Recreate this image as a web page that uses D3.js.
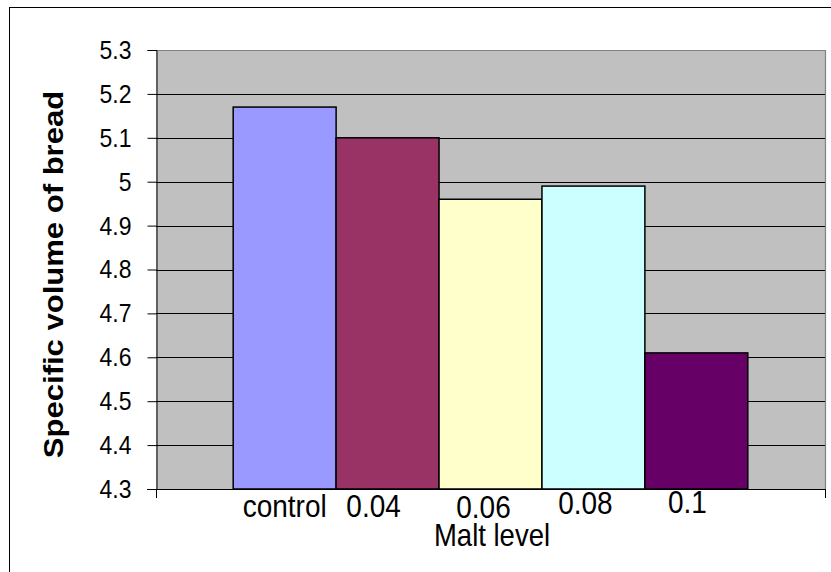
<!DOCTYPE html>
<html>
<head>
<meta charset="utf-8">
<script src="https://cdn.jsdelivr.net/npm/d3@7"></script>
<style>
  html, body { margin: 0; padding: 0; background: #fff; }
  svg { display: block; font-family: "Liberation Sans", Arial, sans-serif; }
</style>
</head>
<body>
<svg id="chart" width="831" height="572"></svg>
<script>
// ---- data ----
const categories = ["control", "0.04", "0.06", "0.08", "0.1"];
const values = [5.17, 5.10, 4.96, 4.99, 4.61];
const barColors = ["#9999FF", "#993366", "#FFFFCC", "#CCFFFF", "#660066"];
const yTicks = [4.3, 4.4, 4.5, 4.6, 4.7, 4.8, 4.9, 5, 5.1, 5.2, 5.3];
const yTickLabels = ["4.3", "4.4", "4.5", "4.6", "4.7", "4.8", "4.9", "5", "5.1", "5.2", "5.3"];
const xTitle = "Malt level";
const yTitle = "Specific volume of bread";
// label nudges (layout only, as in the original slightly misaligned labels)
const labelDx = [0, -14, -7, -8, -9];
const labelDy = [0, 0, 1, -3, -4];

// ---- layout ----
const svg = d3.select("#chart");
const plot = { left: 156, right: 825, top: 50, bottom: 489 };
const stretch = 1.15; // original chart text is slightly tall/narrow

// outer chart border
svg.append("rect")
  .attr("x", 9.5).attr("y", 7.5)
  .attr("width", 840).attr("height", 580)
  .attr("fill", "#fff").attr("stroke", "#000").attr("stroke-width", 1);

const x = d3.scaleBand()
  .domain(categories)
  .range([plot.left, plot.right])
  .paddingInner(0)
  .paddingOuter(0.75);

const y = d3.scaleLinear()
  .domain([4.3, 5.3])
  .range([plot.bottom, plot.top]);

// plot area
svg.append("rect")
  .attr("x", plot.left).attr("y", plot.top)
  .attr("width", plot.right - plot.left)
  .attr("height", plot.bottom - plot.top)
  .attr("fill", "#C0C0C0");

// gridlines
svg.append("g")
  .selectAll("line")
  .data(yTicks.filter(t => t > 4.3 && t < 5.3))
  .join("line")
  .attr("x1", plot.left).attr("x2", plot.right)
  .attr("y1", d => Math.round(y(d)) + 0.5)
  .attr("y2", d => Math.round(y(d)) + 0.5)
  .attr("stroke", "#000").attr("stroke-width", 1);

// plot border (top + right)
svg.append("path")
  .attr("d", `M${plot.left},${plot.top + 0.5}H${plot.right + 0.5}V${plot.bottom}`)
  .attr("fill", "none").attr("stroke", "#808080").attr("stroke-width", 1.2);

// bars
svg.append("g")
  .selectAll("rect")
  .data(categories.map((c, i) => ({ c, v: values[i], color: barColors[i] })))
  .join("rect")
  .attr("x", d => x(d.c))
  .attr("y", d => y(d.v))
  .attr("width", x.bandwidth())
  .attr("height", d => y(4.3) - y(d.v))
  .attr("fill", d => d.color)
  .attr("stroke", "#000")
  .attr("stroke-width", 1.5);

// y axis
const yAxis = d3.axisLeft(y)
  .tickValues(yTicks)
  .tickFormat((d, i) => yTickLabels[i])
  .tickSize(9)
  .tickPadding(16);

const yg = svg.append("g")
  .attr("transform", `translate(${plot.left + 0.5},0)`)
  .call(yAxis);
yg.select(".domain").attr("stroke", "#000");
yg.selectAll(".tick line").attr("stroke", "#000");
yg.selectAll(".tick text")
  .attr("font-family", "'Liberation Sans', Arial, sans-serif")
  .attr("font-size", 23)
  .attr("fill", "#000")
  .attr("transform", `scale(1,${stretch})`);

// x axis line with end ticks (single category axis)
const xg = svg.append("g");
xg.append("line")
  .attr("x1", plot.left - 9).attr("x2", plot.right + 1)
  .attr("y1", plot.bottom + 0.5).attr("y2", plot.bottom + 0.5)
  .attr("stroke", "#000");
xg.selectAll("line.tk")
  .data([plot.left, plot.right])
  .join("line")
  .attr("class", "tk")
  .attr("x1", d => d + 0.5).attr("x2", d => d + 0.5)
  .attr("y1", plot.bottom).attr("y2", plot.bottom + 9)
  .attr("stroke", "#000");

// category labels
svg.append("g")
  .selectAll("text")
  .data(categories)
  .join("text")
  .attr("transform", (d, i) =>
    `translate(${x(d) + x.bandwidth() / 2 + labelDx[i]},${517 + labelDy[i]}) scale(1,${stretch})`)
  .attr("text-anchor", "middle")
  .attr("font-size", 28)
  .attr("fill", "#000")
  .text(d => d);

// x title
svg.append("text")
  .attr("transform", `translate(492,546) scale(1,${stretch})`)
  .attr("text-anchor", "middle")
  .attr("font-size", 27.5)
  .attr("fill", "#000")
  .text(xTitle);

// y title
svg.append("text")
  .attr("transform", `translate(63,${(plot.top + plot.bottom) / 2 + 5}) rotate(-90) scale(${stretch},1)`)
  .attr("text-anchor", "middle")
  .attr("font-size", 27)
  .attr("font-weight", "bold")
  .attr("fill", "#000")
  .text(yTitle);
</script>
</body>
</html>
